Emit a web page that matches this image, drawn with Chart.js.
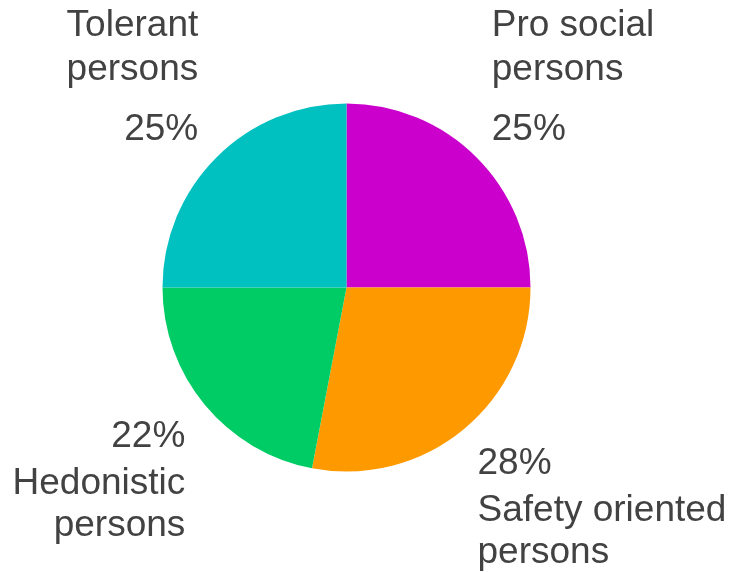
<!DOCTYPE html>
<html>
<head>
<meta charset="utf-8">
<script src="https://cdn.jsdelivr.net/npm/chart.js@4/dist/chart.umd.min.js"></script>
<style>
  html, body { margin: 0; padding: 0; background: #fff; }
  #wrap { width: 733px; height: 572px; position: relative; }
</style>
</head>
<body>
<div id="wrap"><canvas id="typesPie"></canvas></div>
<script>
// person types, clockwise from 12 o'clock
const categories = [
    ['Pro social', 'persons'],
    ['Safety oriented', 'persons'],
    ['Hedonistic', 'persons'],
    ['Tolerant', 'persons']
];
const shares = [25, 28, 22, 25];
const sliceColors = ['#CC00CC', '#FF9900', '#00CC66', '#00C0C0'];

const LABEL_FONT = '37px "Liberation Sans", Arial, sans-serif';
const LABEL_COLOR = '#424242';

// draws "name / percent" outside each slice, stacked away from the pie
const outsideLabels = {
    id: 'outsideLabels',
    afterDatasetsDraw(chart) {
        const ctx = chart.ctx;
        const meta = chart.getDatasetMeta(0);
        const total = shares.reduce((a, b) => a + b, 0);
        ctx.save();
        ctx.font = LABEL_FONT;
        ctx.fillStyle = LABEL_COLOR;
        ctx.textBaseline = 'alphabetic';
        meta.data.forEach((arc, i) => {
            const p = arc.getProps(['x', 'y', 'startAngle', 'endAngle', 'outerRadius'], true);
            const mid = (p.startAngle + p.endAngle) / 2;
            const r = p.outerRadius + 20;
            const right = Math.cos(mid) >= 0;
            const ax = p.x + Math.cos(mid) * r + (right ? 1 : -4);
            const ay = p.y + Math.sin(mid) * r;
            ctx.textAlign = right ? 'left' : 'right';
            const pct = Math.round(shares[i] / total * 100) + '%';
            const lines = categories[i];
            if (Math.sin(mid) < 0) {
                // upper half: name above, percent nearest the pie
                const base = ay - 3;
                ctx.fillText(pct, ax, base);
                let y = base - 60;
                for (let k = lines.length - 1; k >= 0; k--) {
                    ctx.fillText(lines[k], ax, y);
                    y -= 44;
                }
            } else {
                // lower half: percent first, name below
                const base = ay + 29;
                ctx.fillText(pct, ax, base);
                let y = base + 47;
                lines.forEach(line => {
                    ctx.fillText(line, ax, y);
                    y += 42;
                });
            }
        });
        ctx.restore();
    }
};

new Chart(document.getElementById('typesPie'), {
    type: 'pie',
    data: {
        labels: categories.map(l => l.join(' ')),
        datasets: [{
            data: shares,
            backgroundColor: sliceColors,
            borderWidth: 0,
            hoverOffset: 0
        }]
    },
    options: {
        responsive: true, maintainAspectRatio: false,
        animation: false,
        layout: { padding: { left: 162.5, right: 202.5, top: 103.5, bottom: 100.5 } },
        plugins: {
            legend: { display: false },
            tooltip: { enabled: false }
        }
    },
    plugins: [outsideLabels]
});
</script>
</body>
</html>
